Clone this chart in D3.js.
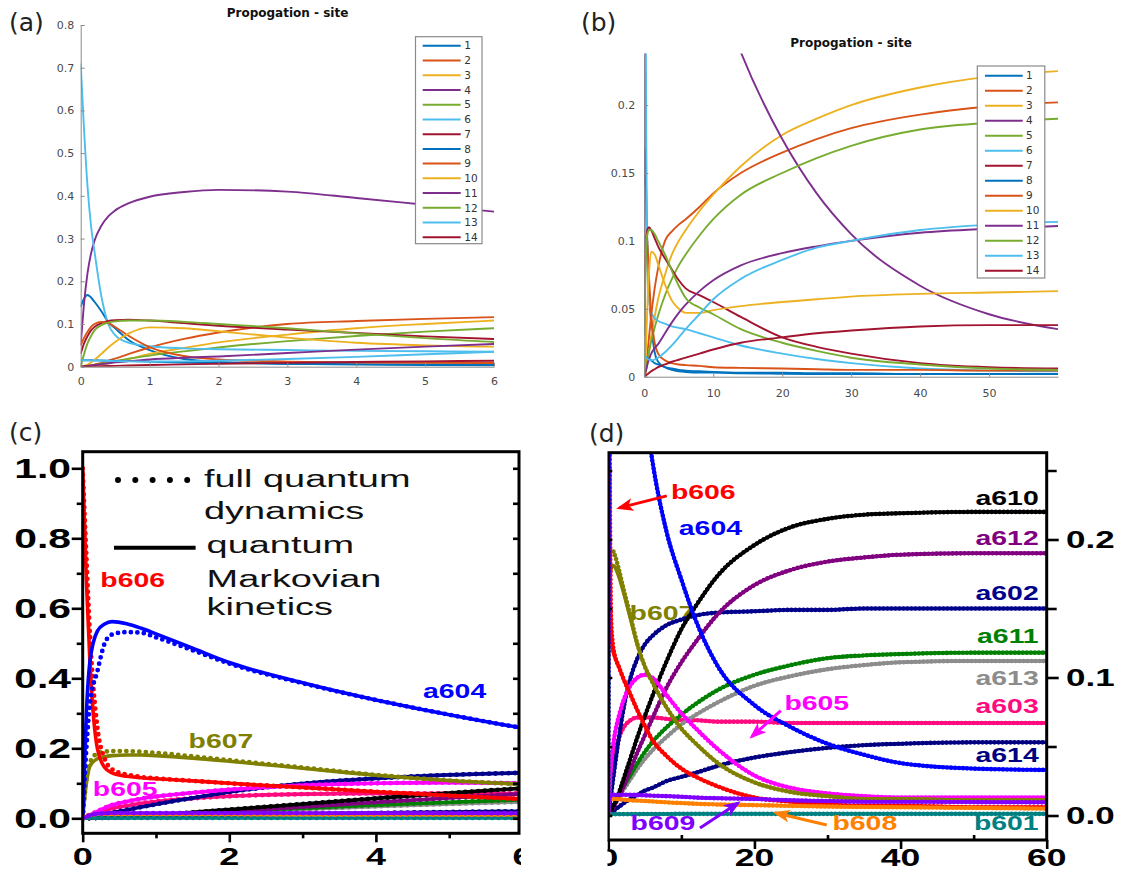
<!DOCTYPE html>
<html>
<head>
<meta charset="utf-8">
<script src="https://cdn.jsdelivr.net/npm/d3@7.9.0/dist/d3.min.js"></script>
<style>
  body { margin: 0; background: #fff; }
  svg { display: block; }
</style>
</head>
<body>
<svg id="fig" width="1127" height="876"></svg>
<script>
// ---- site populations, panels (a) and (b) share one run ----
const siteTimes = [0, 0.05, 0.1, 0.15, 0.2, 0.3, 0.4, 0.5, 0.7, 1, 1.5, 2, 3, 4, 5, 6, 8, 10, 14, 20, 25, 30, 40, 50, 60];
const site1 = [0.14, 0.16, 0.168, 0.162, 0.152, 0.13, 0.105, 0.09, 0.062, 0.039, 0.018, 0.011, 0.007, 0.005, 0.004, 0.0035, 0.003, 0.003, 0.0025, 0.0022, 0.002, 0.002, 0.002, 0.002, 0.002];
const site2 = [0, 0.001, 0.002, 0.003, 0.005, 0.009, 0.014, 0.019, 0.03, 0.045, 0.065, 0.08, 0.1, 0.107, 0.112, 0.116, 0.125, 0.135, 0.15, 0.165, 0.175, 0.183, 0.193, 0.199, 0.202];
const site3 = [0, 0.0005, 0.001, 0.002, 0.003, 0.005, 0.008, 0.011, 0.018, 0.03, 0.044, 0.057, 0.075, 0.09, 0.1, 0.108, 0.122, 0.134, 0.155, 0.178, 0.19, 0.2, 0.213, 0.221, 0.225];
const site4 = [0.05, 0.15, 0.22, 0.265, 0.295, 0.33, 0.352, 0.366, 0.383, 0.398, 0.409, 0.414, 0.41, 0.395, 0.379, 0.363, 0.33, 0.295, 0.239, 0.175, 0.135, 0.105, 0.067, 0.046, 0.035];
const site5 = [0, 0.001, 0.002, 0.003, 0.004, 0.007, 0.01, 0.013, 0.019, 0.026, 0.036, 0.045, 0.06, 0.072, 0.082, 0.09, 0.104, 0.116, 0.134, 0.15, 0.161, 0.17, 0.182, 0.187, 0.19];
const site6 = [0.71, 0.55, 0.42, 0.33, 0.27, 0.165, 0.1, 0.074, 0.056, 0.048, 0.043, 0.041, 0.039, 0.037, 0.036, 0.035, 0.032, 0.029, 0.023, 0.017, 0.013, 0.01, 0.006, 0.0045, 0.004];
const site7 = [0.03, 0.055, 0.072, 0.085, 0.093, 0.102, 0.107, 0.109, 0.11, 0.108, 0.102, 0.096, 0.087, 0.079, 0.071, 0.065, 0.06, 0.055, 0.044, 0.029, 0.022, 0.017, 0.01, 0.007, 0.006];
const site8 = [0.015, 0.015, 0.015, 0.015, 0.015, 0.0145, 0.014, 0.0135, 0.013, 0.012, 0.01, 0.009, 0.007, 0.006, 0.005, 0.0045, 0.004, 0.0035, 0.003, 0.003, 0.0025, 0.0025, 0.002, 0.002, 0.002];
const site9 = [0.05, 0.068, 0.082, 0.093, 0.1, 0.105, 0.102, 0.093, 0.072, 0.046, 0.025, 0.017, 0.012, 0.01, 0.009, 0.0085, 0.008, 0.007, 0.0065, 0.006, 0.0055, 0.005, 0.005, 0.0045, 0.0045];
const site10 = [0, 0.002, 0.005, 0.01, 0.016, 0.03, 0.045, 0.058, 0.078, 0.092, 0.09, 0.083, 0.068, 0.056, 0.05, 0.047, 0.047, 0.049, 0.052, 0.055, 0.057, 0.059, 0.061, 0.062, 0.063];
const site11 = [0, 0.001, 0.002, 0.003, 0.004, 0.006, 0.008, 0.01, 0.013, 0.017, 0.021, 0.024, 0.032, 0.04, 0.047, 0.053, 0.063, 0.071, 0.082, 0.091, 0.096, 0.1, 0.106, 0.109, 0.111];
const site12 = [0, 0.03, 0.055, 0.072, 0.085, 0.097, 0.103, 0.106, 0.108, 0.108, 0.105, 0.1, 0.09, 0.078, 0.067, 0.058, 0.051, 0.046, 0.035, 0.025, 0.019, 0.014, 0.009, 0.006, 0.005];
const site13 = [0.015, 0.015, 0.015, 0.0148, 0.0145, 0.014, 0.0135, 0.013, 0.0125, 0.012, 0.0125, 0.014, 0.018, 0.023, 0.029, 0.035, 0.046, 0.057, 0.072, 0.086, 0.095, 0.1, 0.108, 0.112, 0.114];
const site14 = [0, 0.0002, 0.0004, 0.0006, 0.0008, 0.0012, 0.0016, 0.002, 0.0028, 0.004, 0.0055, 0.007, 0.009, 0.011, 0.0125, 0.014, 0.017, 0.02, 0.025, 0.029, 0.032, 0.034, 0.037, 0.038, 0.038];
const siteRuns = [site1, site2, site3, site4, site5, site6, site7, site8, site9, site10, site11, site12, site13, site14];
const siteNames = ['1', '2', '3', '4', '5', '6', '7', '8', '9', '10', '11', '12', '13', '14'];
const matlabColors = ['#0072bd', '#d95319', '#edb120', '#7e2f8e', '#77ac30', '#4dbeee', '#a2142f'];

const aTicksX = [0, 1, 2, 3, 4, 5, 6];
const aTicksY = [0, 0.1, 0.2, 0.3, 0.4, 0.5, 0.6, 0.7, 0.8];
const bTicksX = [0, 10, 20, 30, 40, 50];
const bTicksY = [0, 0.05, 0.1, 0.15, 0.2];

// ---- pigment populations, panels (c) and (d) share one run ----
const pigTimes = [0, 0.05, 0.1, 0.2, 0.3, 0.4, 0.6, 0.8, 1, 1.5, 2, 3, 4, 5, 6, 8, 10, 12, 15, 20, 25, 30, 35, 40, 50, 60];
const b606 = [1.0, 0.68, 0.44, 0.2, 0.145, 0.13, 0.12, 0.116, 0.113, 0.107, 0.1, 0.088, 0.076, 0.065, 0.055, 0.043, 0.034, 0.028, 0.021, 0.013, 0.01, 0.008, 0.007, 0.007, 0.006, 0.006];
const b606Full = [1.0, 0.75, 0.52, 0.26, 0.17, 0.14, 0.125, 0.118, 0.114, 0.107, 0.1, 0.088, 0.076, 0.065, 0.055, 0.043, 0.034, 0.028, 0.021, 0.013, 0.01, 0.008, 0.007, 0.007, 0.006, 0.006];
const a604 = [0, 0.3, 0.45, 0.535, 0.555, 0.562, 0.556, 0.543, 0.527, 0.486, 0.445, 0.387, 0.338, 0.296, 0.258, 0.205, 0.171, 0.141, 0.108, 0.08, 0.064, 0.052, 0.044, 0.038, 0.034, 0.033];
const a604Full = [0, 0.2, 0.33, 0.42, 0.5, 0.525, 0.532, 0.53, 0.517, 0.48, 0.442, 0.386, 0.338, 0.296, 0.258, 0.205, 0.171, 0.141, 0.108, 0.08, 0.064, 0.052, 0.044, 0.038, 0.034, 0.033];
const b607 = [0, 0.1, 0.15, 0.17, 0.176, 0.179, 0.181, 0.181, 0.179, 0.172, 0.163, 0.143, 0.123, 0.108, 0.097, 0.078, 0.063, 0.052, 0.038, 0.024, 0.017, 0.014, 0.012, 0.012, 0.011, 0.011];
const b607Full = [0, 0.11, 0.16, 0.185, 0.19, 0.192, 0.192, 0.19, 0.187, 0.177, 0.166, 0.145, 0.124, 0.108, 0.097, 0.078, 0.063, 0.052, 0.038, 0.024, 0.017, 0.014, 0.012, 0.012, 0.011, 0.011];
const b605 = [0, 0.005, 0.01, 0.02, 0.03, 0.038, 0.048, 0.056, 0.062, 0.073, 0.082, 0.094, 0.1, 0.102, 0.1, 0.087, 0.074, 0.063, 0.048, 0.029, 0.02, 0.016, 0.014, 0.013, 0.013, 0.013];
const a603 = [0, 0.003, 0.007, 0.015, 0.022, 0.028, 0.036, 0.043, 0.048, 0.057, 0.063, 0.069, 0.071, 0.071, 0.071, 0.07, 0.069, 0.069, 0.068, 0.068, 0.067, 0.067, 0.067, 0.067, 0.067, 0.067];
const a602 = [0, 0.002, 0.004, 0.008, 0.012, 0.016, 0.024, 0.032, 0.04, 0.058, 0.075, 0.099, 0.114, 0.124, 0.13, 0.138, 0.142, 0.145, 0.147, 0.148, 0.149, 0.149, 0.15, 0.15, 0.15, 0.15];
const a610 = [0, 0.0005, 0.001, 0.002, 0.003, 0.004, 0.006, 0.008, 0.01, 0.017, 0.025, 0.041, 0.057, 0.072, 0.086, 0.112, 0.135, 0.152, 0.174, 0.196, 0.209, 0.215, 0.218, 0.219, 0.22, 0.22];
const a612 = [0, 0.0004, 0.0008, 0.0016, 0.0025, 0.0035, 0.005, 0.007, 0.009, 0.014, 0.02, 0.033, 0.046, 0.058, 0.07, 0.093, 0.111, 0.126, 0.146, 0.167, 0.178, 0.184, 0.187, 0.189, 0.19, 0.19];
const a611 = [0, 0.0005, 0.001, 0.002, 0.003, 0.004, 0.006, 0.008, 0.01, 0.015, 0.02, 0.029, 0.038, 0.046, 0.053, 0.064, 0.073, 0.081, 0.091, 0.102, 0.109, 0.114, 0.116, 0.117, 0.118, 0.118];
const a613 = [0, 0.0005, 0.001, 0.002, 0.003, 0.004, 0.006, 0.008, 0.01, 0.014, 0.018, 0.026, 0.034, 0.041, 0.047, 0.057, 0.066, 0.073, 0.082, 0.094, 0.101, 0.106, 0.109, 0.111, 0.112, 0.112];
const a614 = [0, 0.0002, 0.0004, 0.0008, 0.0012, 0.0016, 0.0025, 0.0035, 0.0045, 0.0065, 0.0085, 0.012, 0.015, 0.018, 0.02, 0.025, 0.028, 0.031, 0.036, 0.042, 0.046, 0.049, 0.051, 0.052, 0.053, 0.053];
const b609 = [0, 0.005, 0.009, 0.013, 0.014, 0.015, 0.015, 0.015, 0.015, 0.015, 0.015, 0.015, 0.0148, 0.0146, 0.0144, 0.014, 0.0136, 0.013, 0.0125, 0.012, 0.011, 0.0105, 0.01, 0.01, 0.0097, 0.0095];
const b608 = [0, 0.006, 0.01, 0.012, 0.012, 0.012, 0.012, 0.012, 0.012, 0.0118, 0.0115, 0.011, 0.0108, 0.0105, 0.0102, 0.0095, 0.009, 0.0085, 0.008, 0.0075, 0.007, 0.0065, 0.0062, 0.006, 0.0055, 0.005];
const b601 = [0, 0.0005, 0.001, 0.001, 0.001, 0.001, 0.001, 0.001, 0.001, 0.001, 0.001, 0.001, 0.001, 0.0011, 0.0011, 0.0011, 0.0012, 0.0012, 0.0012, 0.0012, 0.0012, 0.0012, 0.0012, 0.0012, 0.0012, 0.0012];

// draw order, colour, markovian curve, full-dynamics curve
const pigments = [
  { name: 'a614', color: '#000080', kin: a614, full: a614 },
  { name: 'a603', color: '#ff0a7f', kin: a603, full: a603 },
  { name: 'a613', color: '#8c8c8c', kin: a613, full: a613 },
  { name: 'a611', color: '#008000', kin: a611, full: a611 },
  { name: 'a602', color: '#00008b', kin: a602, full: a602 },
  { name: 'a612', color: '#800080', kin: a612, full: a612 },
  { name: 'a610', color: '#000000', kin: a610, full: a610 },
  { name: 'b605', color: '#ff00ff', kin: b605, full: b605 },
  { name: 'b607', color: '#808000', kin: b607, full: b607Full },
  { name: 'b606', color: '#ff0000', kin: b606, full: b606Full },
  { name: 'a604', color: '#0000ff', kin: a604, full: a604Full },
  { name: 'b601', color: '#008080', kin: b601, full: b601 },
  { name: 'b608', color: '#ff8000', kin: b608, full: b608 },
  { name: 'b609', color: '#8000ff', kin: b609, full: b609 }
];
const pigColor = Object.fromEntries(pigments.map(p => [p.name, p.color]));

const cTicksX = [0, 2, 4, 6];
const cMinorX = [1, 3, 5];
const cTicksY = [0, 0.2, 0.4, 0.6, 0.8, 1.0];
const cMinorY = [0.1, 0.3, 0.5, 0.7, 0.9];
const dTicksX = [0, 20, 40, 60];
const dMinorX = [10, 30, 50];
const dTicksY = [0, 0.1, 0.2];
const dMinorY = [0.05, 0.15, 0.25];

const svg = d3.select('#fig');
const defs = svg.append('defs');
let clipId = 0;
function clipRect(x, y, w, h) {
  const id = 'clip' + (clipId++);
  defs.append('clipPath').attr('id', id).append('rect')
    .attr('x', x).attr('y', y).attr('width', w).attr('height', h);
  return `url(#${id})`;
}

function panelLetter(str, x, y) {
  svg.append('text').attr('x', x).attr('y', y)
    .attr('font-family', 'DejaVu Sans, sans-serif').attr('font-size', 25)
    .attr('fill', '#222').text(str);
}

// ---------- panels (a) and (b) ----------
function drawSitePanel(x, y, ticksX, ticksY, opt) {
  const g = svg.append('g');
  const [x0, x1] = x.range();
  const [y0, y1] = y.range();
  const lines = g.append('g').attr('clip-path', clipRect(x0, y1, x1 - x0, y0 - y1));
  siteRuns.forEach((run, i) => {
    const line = d3.line()
      .x((d, j) => x(siteTimes[j]))
      .y(d => y(d))
      .curve(d3.curveMonotoneX);
    lines.append('path').attr('d', line(run))
      .attr('fill', 'none').attr('stroke', matlabColors[i % 7]).attr('stroke-width', 1.9);
  });

  const fmt = d3.format('~g');
  const ax = g.append('g').attr('transform', `translate(0,${y0})`)
    .call(d3.axisBottom(x).tickValues(ticksX).tickSize(-4).tickSizeOuter(0)
      .tickPadding(opt.padX).tickFormat(fmt));
  const ay = g.append('g').attr('transform', `translate(${x0},0)`)
    .call(d3.axisLeft(y).tickValues(ticksY).tickSize(-4).tickSizeOuter(0)
      .tickPadding(opt.padY).tickFormat(fmt));
  [ax, ay].forEach(a => {
    a.selectAll('path,line').attr('stroke', '#8a8a8a');
    a.selectAll('text').attr('fill', '#4a4a4a')
      .attr('font-family', 'DejaVu Sans, sans-serif').attr('font-size', 11);
  });

  g.append('text').attr('x', opt.titleX).attr('y', opt.titleY)
    .attr('text-anchor', 'middle').attr('font-family', 'DejaVu Sans, sans-serif')
    .attr('font-weight', 'bold').attr('font-size', 12).attr('fill', '#111')
    .text('Propogation - site');

  const lg = opt.legend;
  g.append('rect').attr('x', lg.x).attr('y', lg.y).attr('width', lg.w).attr('height', lg.h)
    .attr('fill', '#fff').attr('stroke', '#8a8a8a').attr('stroke-width', 1.2);
  siteNames.forEach((name, i) => {
    const yy = lg.first + i * lg.step;
    g.append('line').attr('x1', lg.lx0).attr('x2', lg.lx1).attr('y1', yy).attr('y2', yy)
      .attr('stroke', matlabColors[i % 7]).attr('stroke-width', 2);
    g.append('text').attr('x', lg.tx).attr('y', yy + 3.7)
      .attr('font-family', 'DejaVu Sans, sans-serif').attr('font-size', 10.5)
      .attr('fill', '#333').text(name);
  });
}

const xA = d3.scaleLinear().domain([0, 6]).range([80.7, 494]);
const yA = d3.scaleLinear().domain([0, 0.8]).range([366.7, 25]);
drawSitePanel(xA, yA, aTicksX, aTicksY, {
  padX: 10.5, padY: 6.5, titleX: 287.5, titleY: 17,
  legend: { x: 415.5, y: 36.7, w: 66.5, h: 207, first: 45.7, step: 14.74, lx0: 422.7, lx1: 460.7, tx: 464.3 }
});

const xB = d3.scaleLinear().domain([0, 60]).range([644.3, 1058]);
const yB = d3.scaleLinear().domain([0, 0.238]).range([376.7, 53.5]);
drawSitePanel(xB, yB, bTicksX, bTicksY, {
  padX: 12.5, padY: 9, titleX: 851, titleY: 47,
  legend: { x: 977.3, y: 66, w: 67.5, h: 212, first: 75.7, step: 15, lx0: 985, lx1: 1022.7, tx: 1026 }
});

panelLetter('(a)', 9, 31);
panelLetter('(b)', 581, 31);

// ---------- panels (c) and (d) ----------
function wideText(g, str, x, y, o) {
  return g.append('text')
    .attr('transform', `translate(${x},${y}) scale(${o.sx},1)`)
    .attr('text-anchor', o.anchor || 'start')
    .attr('font-family', 'Liberation Sans, Arial, sans-serif')
    .attr('font-weight', o.weight || 'bold')
    .attr('font-size', o.size)
    .attr('fill', o.color || '#000')
    .text(str);
}

function drawPigmentCurves(g, x, y, box, style) {
  const inner = g.append('g').attr('clip-path', clipRect(box.x0, box.y0, box.x1 - box.x0, box.y1 - box.y0));
  const line = d3.line()
    .x((d, j) => x(pigTimes[j]))
    .y(d => y(d))
    .curve(d3.curveMonotoneX);
  pigments.forEach(p => {
    inner.append('path').attr('d', line(p.kin))
      .attr('fill', 'none').attr('stroke', p.color).attr('stroke-width', style.solid);
    inner.append('path').attr('d', line(p.full))
      .attr('fill', 'none').attr('stroke', p.color).attr('stroke-width', style.dot)
      .attr('stroke-linecap', 'round').attr('stroke-dasharray', `0 ${style.gap}`);
  });
}

function tickAxis(g, axis, tx, ty) {
  const a = g.append('g').attr('transform', `translate(${tx},${ty})`).call(axis);
  a.select('.domain').remove();
  a.selectAll('line').attr('stroke', '#000').attr('stroke-width', 2.6);
  a.selectAll('text').remove();
  return a;
}

function drawBox(g, box) {
  g.append('rect').attr('x', box.x0).attr('y', box.y0)
    .attr('width', box.x1 - box.x0).attr('height', box.y1 - box.y0)
    .attr('fill', 'none').attr('stroke', '#000').attr('stroke-width', 3);
}

// panel (c)
const xC = d3.scaleLinear().domain([0, 6]).range([82.7, 522.5]);
const yC = d3.scaleLinear().domain([0, 1]).range([818.3, 468.3]);
const boxC = { x0: 82.7, x1: 519, y0: 451.7, y1: 833.3 };
const gC = svg.append('g').attr('clip-path', clipRect(0, 440, 521, 436));
drawPigmentCurves(gC, xC, yC, boxC, { solid: 3.6, dot: 4.8, gap: 6.5 });
tickAxis(gC, d3.axisLeft(yC).tickValues(cTicksY).tickSize(11).tickSizeOuter(0), boxC.x0, 0);
tickAxis(gC, d3.axisLeft(yC).tickValues(cMinorY).tickSize(6).tickSizeOuter(0), boxC.x0, 0);
tickAxis(gC, d3.axisBottom(xC).tickValues(cTicksX.filter(v => xC(v) <= boxC.x1)).tickSize(9).tickSizeOuter(0), 0, boxC.y1);
tickAxis(gC, d3.axisBottom(xC).tickValues(cMinorX).tickSize(5).tickSizeOuter(0), 0, boxC.y1);
tickAxis(gC, d3.axisRight(yC).tickValues(cTicksY.concat(cMinorY)).tickSize(-6).tickSizeOuter(0), boxC.x1, 0);
drawBox(gC, boxC);
cTicksY.forEach(v => wideText(gC, d3.format('.1f')(v), 71, yC(v) + 10, { size: 28, sx: 1.46, anchor: 'end' }));
cTicksX.forEach(v => wideText(gC, String(v), xC(v), 865, { size: 24, sx: 1.5, anchor: 'middle' }));

// legend of panel (c)
gC.append('line').attr('x1', 118).attr('x2', 188).attr('y1', 480).attr('y2', 480)
  .attr('stroke', '#000').attr('stroke-width', 6).attr('stroke-linecap', 'round')
  .attr('stroke-dasharray', '0 17.3');
gC.append('line').attr('x1', 114).attr('x2', 195.6).attr('y1', 547.7).attr('y2', 547.7)
  .attr('stroke', '#000').attr('stroke-width', 4);
const legendLines = [['full quantum', 204, 486.7], ['dynamics', 204, 519], ['quantum', 206.6, 553.3], ['Markovian', 206.6, 586.7], ['kinetics', 206.6, 615]];
legendLines.forEach(([s, lx, ly]) => wideText(gC, s, lx, ly, { size: 24, sx: 1.58, weight: 'normal', color: '#111' }));

// curve names in (c), in data coordinates
const cNotes = [['b606', 0.241, 0.662], ['a604', 4.643, 0.345], ['b607', 1.445, 0.2], ['b605', 0.138, 0.064]];
cNotes.forEach(([n, t, v]) => wideText(gC, n, xC(t), yC(v), { size: 20, sx: 1.42, color: pigColor[n] }));

// panel (d)
const xD = d3.scaleLinear().domain([0, 60]).range([608.3, 1046.7]);
const yD = d3.scaleLinear().domain([0, 0.2]).range([815.5, 539.5]);
const boxD = { x0: 608.3, x1: 1046.7, y0: 452.7, y1: 840 };
const gD = svg.append('g').attr('clip-path', clipRect(607.5, 420, 520, 456));

// label partly covered by the curves
wideText(gD, 'b607', xD(2.91), yD(0.142), { size: 20, sx: 1.42, color: pigColor.b607 });
drawPigmentCurves(gD, xD, yD, boxD, { solid: 3.4, dot: 4.6, gap: 4 });
tickAxis(gD, d3.axisRight(yD).tickValues(dTicksY).tickSize(12).tickSizeOuter(0), boxD.x1, 0);
tickAxis(gD, d3.axisRight(yD).tickValues(dMinorY).tickSize(10).tickSizeOuter(0), boxD.x1, 0);
tickAxis(gD, d3.axisLeft(yD).tickValues(dTicksY.concat(dMinorY)).tickSize(-4).tickSizeOuter(0), boxD.x0, 0);
tickAxis(gD, d3.axisBottom(xD).tickValues(dTicksX).tickSize(9).tickSizeOuter(0), 0, boxD.y1);
tickAxis(gD, d3.axisBottom(xD).tickValues(dMinorX).tickSize(-5).tickSizeOuter(0), 0, boxD.y1);
drawBox(gD, boxD);
dTicksY.forEach(v => wideText(gD, d3.format('.1f')(v), 1066, yD(v) + 8.5, { size: 23, sx: 1.52 }));
dTicksX.forEach(v => wideText(gD, String(v), xD(v), 866, { size: 24, sx: 1.48, anchor: 'middle' }));

// right-hand names, ending at t = 58.9
const dRight = [['a610', 0.2251], ['a612', 0.196], ['a602', 0.156], ['a611', 0.1247], ['a613', 0.0949], ['a603', 0.0743], ['a614', 0.0391], ['b601', -0.0105]];
dRight.forEach(([n, v]) => wideText(gD, n, xD(58.9), yD(v), { size: 20, sx: 1.42, anchor: 'end', color: pigColor[n] }));
const dLeft = [['b606', 8.57, 0.2295], ['a604', 9.65, 0.2033], ['b605', 24.11, 0.0767], ['b609', 3.05, -0.0105], ['b608', 30.68, -0.0105]];
dLeft.forEach(([n, t, v]) => wideText(gD, n, xD(t), yD(v), { size: 20, sx: 1.42, color: pigColor[n] }));

// arrows: name, tail (t, v), head (t, v)
const dArrows = [['b606', 8.0, 0.2316, 1.5, 0.2229], ['b605', 23.6, 0.076, 19.64, 0.0571], ['b609', 12.55, -0.0091, 17.75, 0.0091], ['b608', 29.9, -0.0069, 22.95, 0.0018]];
dArrows.forEach(([n, t0, v0, t1, v1], i) => {
  const id = 'arrow' + i;
  defs.append('marker').attr('id', id).attr('viewBox', '0 0 16 12')
    .attr('refX', 13).attr('refY', 6).attr('markerUnits', 'userSpaceOnUse')
    .attr('markerWidth', 17).attr('markerHeight', 13).attr('orient', 'auto')
    .append('path').attr('d', 'M0,0 L16,6 L0,12 L4,6 z').attr('fill', pigColor[n]);
  gD.append('line').attr('x1', xD(t0)).attr('y1', yD(v0)).attr('x2', xD(t1)).attr('y2', yD(v1))
    .attr('stroke', pigColor[n]).attr('stroke-width', 3).attr('marker-end', `url(#${id})`);
});

panelLetter('(c)', 9, 441);
panelLetter('(d)', 589, 442);
</script>
</body>
</html>
